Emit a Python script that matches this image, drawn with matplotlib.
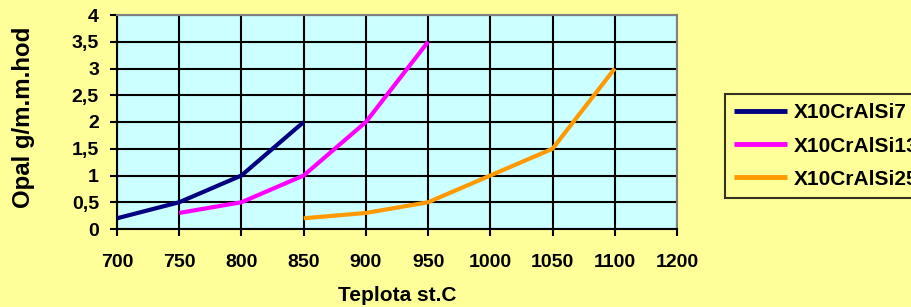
import matplotlib
matplotlib.use("Agg")
import matplotlib.pyplot as plt
from matplotlib.ticker import FuncFormatter

plt.rcParams['font.family'] = ['Liberation Sans', 'DejaVu Sans']
plt.rcParams['font.weight'] = 'bold'

# category axis (as in the original chart: 1150 is missing)
categories = [700, 750, 800, 850, 900, 950, 1000, 1050, 1100, 1200]
series_names = ["X10CrAlSi7", "X10CrAlSi13", "X10CrAlSi25"]
x_si7 = [700, 750, 800, 850]
y_si7 = [0.2, 0.5, 1.0, 2.0]
x_si13 = [750, 800, 850, 900, 950]
y_si13 = [0.3, 0.5, 1.0, 2.0, 3.5]
x_si25 = [850, 900, 950, 1000, 1050, 1100]
y_si25 = [0.2, 0.3, 0.5, 1.0, 1.5, 3.0]
y_ticks = [0, 0.5, 1, 1.5, 2, 2.5, 3, 3.5, 4]

colors = ["#000080", "#FF00FF", "#FF9900"]
bg = "#FFFF99"
plot_bg = "#CCFFFF"

fig = plt.figure(figsize=(9.12, 3.07), dpi=100, facecolor=bg)
ax = fig.add_axes([117/912, 1 - 229/307, 560/912, 214/307])
ax.set_facecolor(plot_bg)

for xs, ys, c, n in zip([x_si7, x_si13, x_si25], [y_si7, y_si13, y_si25], colors, series_names):
    pos = [categories.index(x) for x in xs]
    ax.plot(pos, ys, color=c, lw=3, label=n, solid_capstyle='butt', zorder=3)

ax.set_xlim(0, len(categories) - 1)
ax.set_ylim(0, 4)
ax.set_xticks(range(len(categories)))
ax.set_xticklabels([str(c) for c in categories])
ax.set_yticks(y_ticks)
ax.yaxis.set_major_formatter(FuncFormatter(lambda v, p: ("%g" % v).replace('.', ',')))
ax.grid(True, color='black', lw=1.5, zorder=1)
ax.set_axisbelow(True)
ax.tick_params(axis='both', direction='out', length=5, width=1.5, labelsize=14, colors='black')
ax.tick_params(axis='x', pad=13)
ax.tick_params(axis='y', pad=8)
for lab in ax.get_xticklabels() + ax.get_yticklabels():
    lab.set_fontweight('bold')
for s in ['left', 'bottom']:
    ax.spines[s].set_color('black')
    ax.spines[s].set_linewidth(1.5)
for s in ['top', 'right']:
    ax.spines[s].set_color('#808080')
    ax.spines[s].set_linewidth(1.5)

ax.set_xlabel("Teplota st.C", fontsize=15, fontweight='bold', labelpad=11)
ax.set_ylabel("Opal g/m.m.hod", fontsize=17.3, fontweight='bold')
ax.yaxis.set_label_coords((35 - 117) / 560, (229 - 117.5) / 214)

leg = fig.legend(loc='upper left', bbox_to_anchor=(725/912, 1 - 94/307), frameon=True,
                 fontsize=15, handlelength=2.55, handletextpad=0.3, labelspacing=0.68,
                 borderpad=0.45, borderaxespad=0, fancybox=False)
leg.get_frame().set_facecolor(bg)
leg.get_frame().set_edgecolor('black')
leg.get_frame().set_linewidth(1.5)
for t in leg.get_texts():
    t.set_fontweight('bold')
for l in leg.get_lines():
    l.set_linewidth(3.5)

fig.savefig("out.png", dpi=100, facecolor=bg)
